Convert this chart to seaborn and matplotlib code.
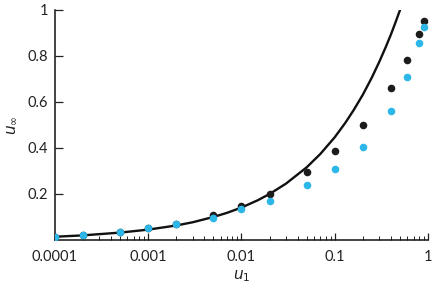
import matplotlib
matplotlib.use("Agg")
import matplotlib.pyplot as plt
import matplotlib.ticker as mticker
import pandas as pd
import seaborn as sns

# data points
u1 = [0.0001, 0.0002, 0.0005, 0.001, 0.002, 0.005, 0.01, 0.02, 0.05, 0.1, 0.2, 0.4, 0.6, 0.8, 0.9]
u_black = [0.013, 0.022, 0.035, 0.051, 0.068, 0.110, 0.149, 0.200, 0.294, 0.387, 0.500, 0.660, 0.783, 0.897, 0.952]
u_cyan = [0.013, 0.022, 0.035, 0.051, 0.068, 0.097, 0.133, 0.171, 0.238, 0.309, 0.404, 0.562, 0.707, 0.857, 0.927]

# theory curve
curve_u1 = [0.0001, 0.0002, 0.0005, 0.001, 0.002, 0.003, 0.005, 0.007, 0.01, 0.015, 0.02, 0.03,
            0.05, 0.07, 0.1, 0.13, 0.16, 0.2, 0.25, 0.3, 0.35, 0.4, 0.45, 0.5]
curve_uinf = [0.014, 0.020, 0.032, 0.045, 0.063, 0.077, 0.100, 0.118, 0.141, 0.173, 0.200, 0.245,
              0.316, 0.374, 0.447, 0.510, 0.566, 0.632, 0.707, 0.775, 0.837, 0.894, 0.949, 1.000]

x_ticks = [0.0001, 0.001, 0.01, 0.1, 1]
x_labels = ["0.0001", "0.001", "0.01", "0.1", "1"]
y_ticks = [0.2, 0.4, 0.6, 0.8, 1.0]
y_labels = ["0.2", "0.4", "0.6", "0.8", "1"]

sns.set_style("ticks")
plt.rcParams["font.family"] = ["Lato", "DejaVu Sans"]
plt.rcParams["mathtext.fontset"] = "dejavusans"

df_pts = pd.DataFrame({"u1": u1, "black": u_black, "cyan": u_cyan})
df_curve = pd.DataFrame({"u1": curve_u1, "uinf": curve_uinf})

fig = plt.figure(figsize=(4.32, 2.85), dpi=100)
ax = fig.add_axes([0.127, 0.158, 0.864, 0.807])

sns.lineplot(data=df_curve, x="u1", y="uinf", color="#111111", linewidth=1.7, ax=ax, zorder=2)
sns.scatterplot(data=df_pts, x="u1", y="black", color="#1c1c1c", s=30, linewidth=0, ax=ax, zorder=3)
sns.scatterplot(data=df_pts, x="u1", y="cyan", color="#2cb7e8", s=30, linewidth=0, ax=ax, zorder=4)

ax.set_xscale("log")
ax.set_xlim(0.0001, 1)
ax.set_ylim(0, 1)
ax.set_xticks(x_ticks)
ax.set_xticklabels(x_labels)
ax.xaxis.set_minor_locator(mticker.LogLocator(base=10, subs=range(2, 10)))
ax.xaxis.set_minor_formatter(mticker.NullFormatter())
ax.set_yticks(y_ticks)
ax.set_yticklabels(y_labels)

ax.tick_params(axis="both", which="major", direction="in", length=5, width=0.9,
               labelsize=10.5, colors="#222222", pad=5)
ax.tick_params(axis="x", which="major", pad=7)
ax.tick_params(axis="x", which="minor", direction="in", length=3, width=0.7, color="#222222")
ax.tick_params(axis="y", which="major", length=6)

for side in ["left", "bottom"]:
    ax.spines[side].set_linewidth(1.1)
    ax.spines[side].set_color("#111111")
sns.despine(ax=ax)

ax.set_xlabel(r"$u_1$", fontsize=11, color="#222222", labelpad=3)
ax.set_ylabel(r"$u_\infty$", fontsize=11, color="#222222", labelpad=6)

fig.savefig("out.png", dpi=100)
